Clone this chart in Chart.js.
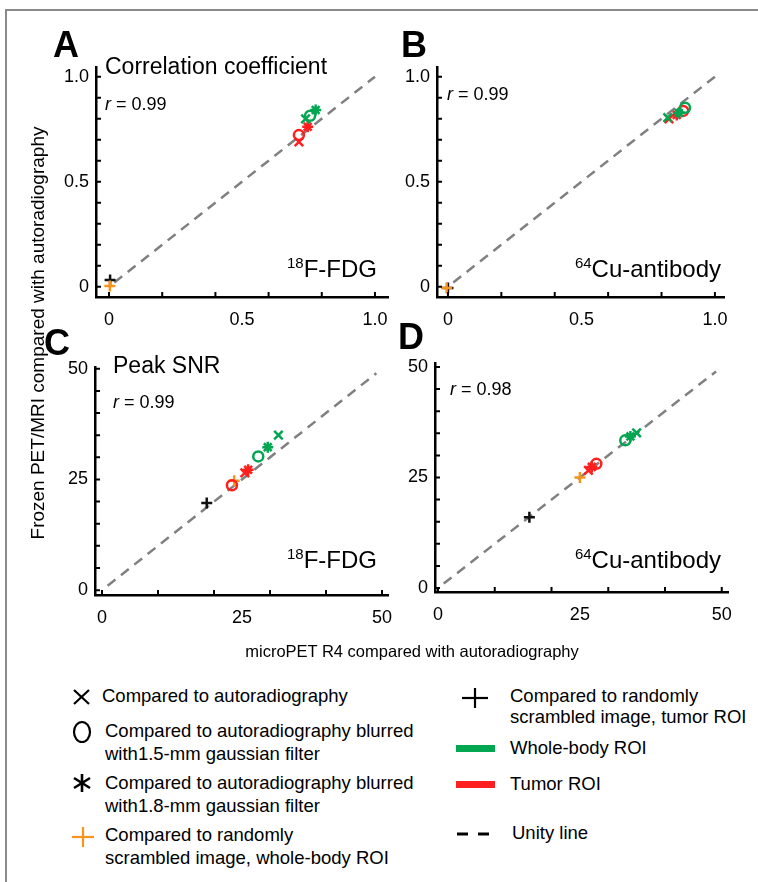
<!DOCTYPE html>
<html>
<head>
<meta charset="utf-8">
<script src="https://cdn.jsdelivr.net/npm/chart.js@4.4.1/dist/chart.umd.min.js"></script>
<style>
  html, body { margin: 0; padding: 0; background: #fff; overflow: hidden; }
  #fig { position: relative; width: 758px; height: 882px; overflow: hidden; background: #fff;
         font-family: "Liberation Sans", Arial, sans-serif; color: #000; }
  #frame { position: absolute; left: 5px; top: 9px; width: 800px; height: 900px;
           border-left: 2px solid #8a8a8a; border-top: 2px solid #8a8a8a; }
  .t { position: absolute; white-space: nowrap; line-height: 1; }
  .lbl { font-weight: bold; font-size: 36px; }
  .ttl { font-size: 23px; }
  .r { font-size: 18px; }
  .iso { font-size: 24px; }
  .iso sup { font-size: 15px; vertical-align: 0; position: relative; top: -9px; }
  .leg { font-size: 18.5px; }
  canvas { position: absolute; }
  svg { position: absolute; overflow: visible; }
</style>
</head>
<body>
<div id="fig">
  <div id="frame"></div>
  <canvas id="chartA"></canvas>
  <canvas id="chartB"></canvas>
  <canvas id="chartC"></canvas>
  <canvas id="chartD"></canvas>
</div>
<script>
// tick labels and tick marks
const corrTickValues = [0, 0.5, 1];
const corrTickLabels = ['0', '0.5', '1.0'];
const corrXMarks = [0, 0.2, 0.4, 0.6, 0.8, 1.0];
const corrYMarks = [0, 0.1, 0.2, 0.3, 0.4, 0.5, 0.6, 0.7, 0.8, 0.9, 1.0];
const snrTickValues = [0, 25, 50];
const snrTickLabels = ['0', '25', '50'];
const snrXMarks = [0, 10, 20, 30, 40, 50];
const snrYMarks = [0, 5, 10, 15, 20, 25, 30, 35, 40, 45, 50];

// marker order in each ROI series: x, o, *
// A: correlation coefficient, 18F-FDG
const aWholeX = [0.739, 0.756, 0.777];
const aWholeY = [0.799, 0.814, 0.841];
const aTumorX = [0.714, 0.714, 0.747];
const aTumorY = [0.690, 0.722, 0.762];
const aScrambledWhole = [0.003, 0.003];
const aScrambledTumor = [0.004, 0.032];
const aUnity = [0.02, 1.0];

// B: correlation coefficient, 64Cu-antibody
const bWholeX = [0.823, 0.888, 0.865];
const bWholeY = [0.805, 0.852, 0.827];
const bTumorX = [0.828, 0.881, 0.857];
const bTumorY = [0.799, 0.837, 0.818];
const bScrambledWhole = [-0.005, -0.006];
const bScrambledTumor = [0.0, -0.006];
const bUnity = [0.02, 1.0];

// C: peak SNR, 18F-FDG
const cWholeX = [31.5, 27.9, 29.6];
const cWholeY = [35.0, 30.2, 32.3];
const cTumorX = [25.5, 23.2, 26.1];
const cTumorY = [26.5, 23.7, 27.2];
const cScrambledWhole = [23.6, 24.7];
const cScrambledTumor = [18.7, 19.7];
const cUnity = [1, 49];

// D: peak SNR, 64Cu-antibody
const dWholeX = [35.0, 33.0, 33.9];
const dWholeY = [35.1, 33.4, 34.3];
const dTumorX = [26.5, 27.9, 27.1];
const dTumorY = [26.6, 28.1, 27.4];
const dScrambledWhole = [25.0, 25.0];
const dScrambledTumor = [16.1, 16.0];
const dUnity = [1, 49];

const GREEN = '#00a650';
const RED = '#ff1f1f';
const ORANGE = '#f7941d';
const BLACK = '#111111';
const styles = ['crossRot', 'circle', 'star'];
const radii = [6, 5, 5.5];

const FONT = '"Liberation Sans", Arial, sans-serif';
const PAD = 20, YW = 45, XH = 35;

function roiDatasets(xs, ys, color) {
    return xs.map((x, i) => ({
        data: [{ x: x, y: ys[i] }],
        pointStyle: styles[i],
        pointRadius: radii[i],
        pointBorderWidth: 2.5,
        pointBorderColor: color,
        pointBackgroundColor: 'rgba(0,0,0,0)'
    }));
}

function plusDataset(p, color) {
    return {
        data: [{ x: p[0], y: p[1] }],
        pointStyle: 'cross',
        pointRadius: 5.5,
        pointBorderWidth: 2.5,
        pointBorderColor: color
    };
}

// inward tick marks, as in the original figure
const inTicks = {
    id: 'inTicks',
    afterDraw(chart, args, opts) {
        const { ctx, chartArea, scales } = chart;
        ctx.save();
        ctx.strokeStyle = '#000';
        ctx.lineWidth = 2;
        ctx.beginPath();
        opts.xMarks.forEach(v => {
            const px = scales.x.getPixelForValue(v);
            ctx.moveTo(px, chartArea.bottom);
            ctx.lineTo(px, chartArea.bottom - 5);
        });
        opts.yMarks.forEach(v => {
            const py = scales.y.getPixelForValue(v);
            ctx.moveTo(chartArea.left, py);
            ctx.lineTo(chartArea.left + 5, py);
        });
        ctx.stroke();
        ctx.restore();
    }
};

function makePanel(id, box, range, tickValues, tickLabels, xMarks, yMarks, whole, tumor, scrW, scrT, unity) {
    const canvas = document.getElementById(id);
    const w = box.right - box.left + YW + 2 * PAD;
    const h = box.bottom - box.top + XH + 2 * PAD;
    canvas.width = w;
    canvas.height = h;
    canvas.style.left = (box.left - YW - PAD) + 'px';
    canvas.style.top = (box.top - PAD) + 'px';

    const datasets = []
        .concat(roiDatasets(whole[0], whole[1], GREEN))
        .concat(roiDatasets(tumor[0], tumor[1], RED))
        .concat([plusDataset(scrW, ORANGE), plusDataset(scrT, BLACK)]);
    datasets.push({
        data: unity.map(v => ({ x: v, y: v })),
        showLine: true,
        borderColor: '#808080',
        borderWidth: 2.5,
        borderDash: [10, 7],
        pointRadius: 0
    });

    const label = v => {
        const i = tickValues.indexOf(v);
        return i >= 0 ? tickLabels[i] : '';
    };
    const axis = (min, max, isX) => ({
        type: 'linear',
        min: min,
        max: max,
        afterBuildTicks: s => { s.ticks = tickValues.map(v => ({ value: v })); },
        afterFit: s => { if (isX) s.height = XH; else s.width = YW; },
        ticks: {
            autoSkip: false,
            maxRotation: 0,
            padding: isX ? 12 : 7,
            color: '#000',
            font: { family: FONT, size: 18 },
            callback: label
        },
        grid: { display: true, drawOnChartArea: false, drawTicks: false },
        border: { display: true, color: '#000', width: 2.5 }
    });

    return new Chart(canvas.getContext('2d'), {
        type: 'scatter',
        data: { datasets: datasets },
        options: {
            responsive: false,
            animation: false,
            layout: { padding: PAD },
            plugins: {
                legend: { display: false },
                tooltip: { enabled: false },
                inTicks: { xMarks: xMarks, yMarks: yMarks }
            },
            scales: {
                x: axis(range.x[0], range.x[1], true),
                y: axis(range.y[0], range.y[1], false)
            }
        },
        plugins: [inTicks]
    });
}

makePanel('chartA', { left: 96, top: 67, right: 388, bottom: 297 },
    { x: [-0.049, 1.049], y: [-0.049, 1.046] }, corrTickValues, corrTickLabels, corrXMarks, corrYMarks,
    [aWholeX, aWholeY], [aTumorX, aTumorY], aScrambledWhole, aScrambledTumor, aUnity);
makePanel('chartB', { left: 437, top: 67, right: 724, bottom: 297 },
    { x: [-0.041, 1.034], y: [-0.049, 1.046] }, corrTickValues, corrTickLabels, corrXMarks, corrYMarks,
    [bWholeX, bWholeY], [bTumorX, bTumorY], bScrambledWhole, bScrambledTumor, bUnity);
makePanel('chartC', { left: 95, top: 367, right: 388, bottom: 595 },
    { x: [-1.25, 51.07], y: [-1.1, 50.4] }, snrTickValues, snrTickLabels, snrXMarks, snrYMarks,
    [cWholeX, cWholeY], [cTumorX, cTumorY], cScrambledWhole, cScrambledTumor, cUnity);
makePanel('chartD', { left: 435, top: 363, right: 728, bottom: 592 },
    { x: [-0.53, 51.1], y: [-0.9, 50.9] }, snrTickValues, snrTickLabels, snrXMarks, snrYMarks,
    [dWholeX, dWholeY], [dTumorX, dTumorY], dScrambledWhole, dScrambledTumor, dUnity);

// text overlays placed by baseline
const fig = document.getElementById('fig');
function addText(html, cls, x, baseline, size, align) {
    const d = document.createElement('div');
    d.className = 't ' + cls;
    d.innerHTML = html;
    d.style.fontSize = size + 'px';
    d.style.top = (baseline - 0.8465 * size) + 'px';
    if (align === 'right') d.style.right = (758 - x) + 'px';
    else d.style.left = x + 'px';
    fig.appendChild(d);
    return d;
}

addText('A', 'lbl', 53, 57, 36);
addText('B', 'lbl', 401, 57, 36);
addText('C', 'lbl', 44, 355, 36);
addText('D', 'lbl', 398, 349, 36);

addText('Correlation coefficient', 'ttl', 105, 74, 23);
addText('Peak SNR', 'ttl', 113, 373, 23);

addText('<i>r</i> = 0.99', 'r', 105, 110, 18);
addText('<i>r</i> = 0.99', 'r', 447, 100, 18);
addText('<i>r</i> = 0.99', 'r', 113, 408, 18);
addText('<i>r</i> = 0.98', 'r', 450, 395, 18);

addText('<sup>18</sup>F-FDG', 'iso', 377, 277, 24, 'right');
addText('<sup>64</sup>Cu-antibody', 'iso', 721, 277, 24, 'right');
addText('<sup>18</sup>F-FDG', 'iso', 377, 568, 24, 'right');
addText('<sup>64</sup>Cu-antibody', 'iso', 721, 568, 24, 'right');

// axis titles
const xt = addText('microPET R4 compared with autoradiography', '', 412, 657, 16.5);
xt.style.transform = 'translateX(-50%)';
const yt = document.createElement('div');
yt.className = 't';
yt.style.fontSize = '19px';
yt.style.left = '37px';
yt.style.top = '333px';
yt.style.transform = 'translate(-50%, -50%) rotate(-90deg)';
yt.textContent = 'Frozen PET/MRI compared with autoradiography';
fig.appendChild(yt);

// legend text
const LS = 18.5;
addText('Compared to autoradiography', 'leg', 102, 703, LS);
addText('Compared to autoradiography blurred', 'leg', 105, 738, LS);
addText('with1.5-mm gaussian filter', 'leg', 105, 761, LS);
addText('Compared to autoradiography blurred', 'leg', 105, 790, LS);
addText('with1.8-mm gaussian filter', 'leg', 105, 813, LS);
addText('Compared to randomly', 'leg', 105, 842, LS);
addText('scrambled image, whole-body ROI', 'leg', 105, 865, LS);
addText('Compared to randomly', 'leg', 510, 703, LS);
addText('scrambled image, tumor ROI', 'leg', 510, 724, LS);
addText('Whole-body ROI', 'leg', 510, 755, LS);
addText('Tumor ROI', 'leg', 510, 791, LS);
addText('Unity line', 'leg', 512, 840, LS);

// legend symbols
const svgNS = 'http://www.w3.org/2000/svg';
const sym = document.createElementNS(svgNS, 'svg');
sym.setAttribute('width', '758');
sym.setAttribute('height', '882');
sym.style.left = '0px';
sym.style.top = '0px';
sym.innerHTML =
    '<g stroke="#000" stroke-width="2.2" fill="none">' +
    '<line x1="74" y1="690" x2="89" y2="704"/><line x1="89" y1="690" x2="74" y2="704"/>' +
    '<ellipse cx="82" cy="732" rx="8" ry="10"/>' +
    '<g stroke-width="2.6"><line x1="82" y1="774" x2="82" y2="792"/>' +
    '<line x1="74" y1="778" x2="90" y2="788"/><line x1="74" y1="788" x2="90" y2="778"/></g>' +
    '<line x1="462" y1="698" x2="488" y2="698"/><line x1="475" y1="688" x2="475" y2="708"/>' +
    '<line x1="457" y1="834" x2="468" y2="834" stroke-width="3"/>' +
    '<line x1="478" y1="834" x2="489" y2="834" stroke-width="3"/>' +
    '</g>' +
    '<g stroke="' + ORANGE + '" stroke-width="2.2">' +
    '<line x1="72" y1="837" x2="94" y2="837"/><line x1="83" y1="827" x2="83" y2="847"/></g>' +
    '<rect x="456" y="745" width="39" height="7" fill="' + GREEN + '"/>' +
    '<rect x="456" y="781" width="39" height="7" fill="' + RED + '"/>';
fig.appendChild(sym);
</script>
</body>
</html>
